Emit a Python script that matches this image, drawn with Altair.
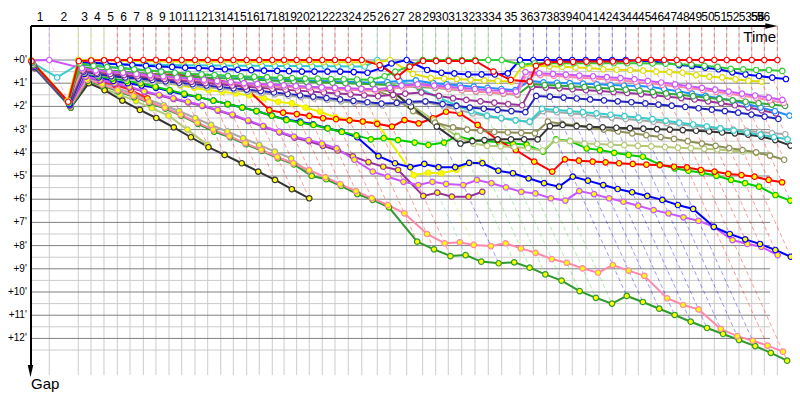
import altair as alt
import pandas as pd

# leader lap completion times (minutes), lap 0 = start
LAP_TIME = [0, 1.74, 4.50, 5.71, 6.95, 8.22, 9.43, 10.70, 11.90, 13.14, 14.35, 15.62, 16.83, 18.07,
            19.27, 20.54, 21.74, 22.98, 24.10, 25.30, 26.50, 27.74, 28.95, 30.22, 31.50, 32.98, 34.19,
            35.78, 37.30, 38.54, 39.74, 41.02, 42.29, 43.55, 44.83, 46.57, 47.84, 49.11, 50.31, 51.55,
            52.83, 54.10, 55.36, 56.64, 57.84, 59.05, 60.29, 61.50, 62.70, 63.88, 65.08, 66.26, 67.43,
            68.64, 69.84, 71.08]
LAP_LABELS = [str(i) for i in range(1, 57)]
LAST_LABEL_POS = [69.2, 69.75]   # labels 55 and 56 are squeezed against the arrow
GAP_TICKS = list(range(0, 13))
N = None

# gaps (minutes) per lap, lap 0..55
red_w = [0.05, 1.8, 0.05, 0.02, 0.01] + [0] * 20 + [0.22, 0.72, 0.29] + [0.04] * 5 + \
        [0.5, 0.86, 0.93, 0.25, 0.1, 0.08, 0.08, 0.07, 0.07, 0.06, 0.05] + [0] * 12
green_w = [0.1, 1.85, 0.15, 0.25, 0.3, 0.35, 0.4, 0.45, 0.5, 0.55, 0.6, 0.62, 0.65, 0.68, 0.7,
           0.72, 0.74, 0.76, 0.78, 0.8, 0.8, 0.82, 0.83, 0.84, 0.85, 0.7, 0.5, 0.27] + [0] * 7 + \
          [0.2] + [0.14] * 9 + [0.15, 0.16, 0.18, 0.2, 0.25, 0.3, 0.38, 0.4, 0.43, 0.43, 0.47]
blue_w = [0.1, 1.9, 0.1, 0.12, 0.15, 0.18, 0.22, 0.25, 0.28, 0.3, 0.33, 0.35, 0.37, 0.4, 0.42,
          0.44, 0.46, 0.47, 0.48, 0.5, 0.5, 0.5, 0.5, 0.52, 0.55, 0.35, 0.15, 0,
          0.43, 0.55, 0.58, 0.62, 0.62, 0.62, 0.58] + [0] * 9 + \
         [0.03, 0.07, 0.12, 0.22, 0.26, 0.33, 0.4, 0.53, 0.62, 0.69, 0.76, 0.82]
yellow_w = [0.0, 1.75, 0, 0, 0, 0.03, 0.04, 0.05, 0.05, 0.06, 0.06, 0.07, 0.07, 0.07, 0.07, 0.08,
            0.08, 0.08, 0.08, 0.08, 0.09, 0.09, 0.1, 0.1, 0.1, 0.1, 0, 0.6,
            0.78, 0.8, 0.82, 0.85, 0.88, 0.9, 0.93, 0.25, 0.25, 0.27, 0.29, 0.32,
            0.35, 0.4, 0.42, 0.43, 0.46, 0.5, 0.52, 0.55, 0.65, 0.72, 0.75, 0.83, 0.89, 0.93, N, N]
magenta_w = [0.02, 0.0, 0.35, 0.45, 0.5, 0.55, 0.6, 0.65, 0.7, 0.75, 0.8, 0.85, 0.9, 0.95, 1.0,
             1.03, 1.06, 1.09, 1.12, 1.15, 1.18, 1.2, 1.22, 1.24, 1.26,
             1.2, 1.1, 1.05, 1.1, 1.15, 1.2, 1.25, 1.3, 1.33, 1.36,
             0.52, 0.57, 0.6, 0.63, 0.67, 0.7, 0.74, 0.78, 0.83, 0.9,
             0.97, 1.05, 1.13, 1.2, 1.28, 1.36, 1.45, 1.53, 1.62, 1.72, N]
pink_w = [0.15, 1.8, 0.4, 0.45, 0.5, 0.56, 0.62, 0.68, 0.74, 0.8, 0.85, 0.9, 0.95, 1.0, 1.04,
          1.08, 1.12, 1.15, 1.18, 1.21, 1.24, 1.26, 1.28, 1.3, 1.32,
          1.25, 1.18, 1.12, 1.18, 1.24, 1.3, 1.35, 1.4, 1.44, 1.48,
          0.62, 0.65, 0.68, 0.72, 0.76, 0.8, 0.84, 0.88, 0.94, 1.0,
          1.07, 1.14, 1.21, 1.29, 1.37, 1.45, 1.54, 1.63, 1.74, 1.85, N]
green2_w = [0.2, 1.85, 0.3, 0.4, 0.45, 0.5, 0.55, 0.6, 0.65, 0.7, 0.72, 0.75, 0.78, 0.8, 0.82,
            0.85, 0.88, 0.9, 0.92, 0.94, 0.96, 0.98, 1.0, 1.02, 1.05,
            1.08, 1.12, 1.16, 1.2, 1.25, 1.3, 1.35, 1.4, 1.45, 1.5,
            1.05, 1.08, 1.1, 1.13, 1.16, 1.2, 1.24, 1.28, 1.32, 1.38,
            1.44, 1.5, 1.56, 1.62, 1.68, 1.74, 1.8, 1.86, 1.92, 1.98, N]
dodger_w = [0.1, 1.8, 0.2, 0.25, 0.3, 0.35, 0.4, 0.45, 0.5, 0.55, 0.6, 0.63, 0.66, 0.7, 0.73,
            0.76, 0.79, 0.82, 0.85, 0.88, 0.9, 0.92, 0.94, 0.96, 0.98,
            0.95, 0.9, 0.88, 1.0, 1.05, 1.1, 1.15, 1.2, 1.25, 1.3,
            0.9, 0.96, 0.98, 1.0, 1.02, 1.05, 1.08, 1.1, 1.12, 1.15,
            1.25, 1.35, 1.45, 1.55, 1.65, 1.75, 1.9, 2.05, 2.2, 2.4, N]
purple_w = [0.25, 1.9, 0.45, 0.55, 0.6, 0.65, 0.7, 0.76, 0.82, 0.88, 0.94, 1.0, 1.05, 1.1, 1.15,
            1.2, 1.24, 1.28, 1.32, 1.36, 1.4, 1.44, 1.48, 1.52, 1.56,
            1.5, 1.45, 1.4, 1.55, 1.65, 1.72, 1.78, 1.84, 1.9, 1.95,
            1.15, 1.19, 1.22, 1.26, 1.3, 1.34, 1.38, 1.42, 1.47, 1.52,
            1.58, 1.64, 1.7, 1.78, 1.86, 1.95, 2.05, 2.17, 2.3, N, N]
navy_w = [0.3, 1.95, 0.5, 0.6, 0.7, 0.75, 0.8, 0.86, 0.92, 0.98, 1.04, 1.1, 1.16, 1.22, 1.28,
          1.34, 1.4, 1.46, 1.52, 1.58, 1.64, 1.7, 1.76, 1.82, 1.88,
          1.85, 1.8, 1.78, 1.9, 1.98, 2.05, 2.1, 2.15, 2.2, 2.25,
          1.55, 1.58, 1.62, 1.66, 1.7, 1.74, 1.78, 1.82, 1.87, 1.92,
          1.97, 2.02, 2.08, 2.14, 2.2, 2.27, 2.35, 2.44, 2.54, N, N]
cyan_w = [0.1, 0.75, 0.15, 0.15, 0.17, 0.18, 0.19, 0.2, 0.21, 0.22, 0.23, 0.23, 0.24, 0.24, 0.25,
          0.25, 0.25, 0.26, 0.26, 0.26, 0.27, 0.27, 0.27, 0.28, 0.28,
          0, 0.9, 1.25, 1.65, 1.95, 2.2, 2.4, 2.5, 2.6, 2.66,
          2.1, 2.15, 2.2, 2.25, 2.3, 2.36, 2.42, 2.48, 2.55, 2.62,
          2.7, 2.78, 2.86, 2.95, 3.04, 3.13, 3.22, 3.32, 3.42, N, N]
gray_w = [0.3, 1.95, 0.55, 0.65, 0.72, 0.8, 0.87, 0.94, 1.0, 1.06, 1.12, 1.18, 1.24, 1.3, 1.36,
          1.42, 1.48, 1.54, 1.6, 1.66, 1.72, 1.78, 1.84, 1.9, 1.96,
          1.9, 1.85, 1.82, 2.0, 2.15, 2.3, 2.42, 2.52, 2.6, 2.68,
          2.2, 2.25, 2.3, 2.36, 2.42, 2.48, 2.54, 2.6, 2.66, 2.72,
          2.78, 2.84, 2.9, 2.95, 3.0, 3.05, 3.1, 3.15, 3.2, N, N]
black_w = [0.3, 1.95, 0.55, 0.62, 0.68, 0.72, 0.76, 0.8, 0.84, 0.88, 0.92, 0.96, 1.0, 1.03, 1.06,
           1.09, 1.12, 1.15, 1.17, 1.19, 1.21, 1.23, 1.25, 1.27, 1.29,
           1.3, 2.0, 2.87, 3.6, 3.5, 3.45, 3.42, 3.42, 3.42, 3.42,
           2.85, 2.8, 2.85, 2.88, 2.9, 2.92, 2.94, 2.96, 2.98, 3.0,
           3.02, 3.05, 3.08, 3.12, 3.16, 3.22, 3.3, 3.45, 3.69, N, N]
olive_w = [0.3, 1.95, 0.5, 0.6, 0.66, 0.7, 0.74, 0.78, 0.82, 0.86, 0.9, 0.93, 0.96, 0.99, 1.02,
           1.05, 1.08, 1.11, 1.14, 1.17, 1.2, 1.23, 1.26, 1.29, 1.32,
           1.6, 2.2, 2.7, 2.9, 3.0, 3.05, 3.1, 3.12, 3.14, 3.16,
           2.66, 2.75, 2.82, 2.9, 3.0, 3.08, 3.16, 3.24, 3.32, 3.4,
           3.5, 3.6, 3.7, 3.8, 3.88, 3.98, 4.12, 4.3, N, N, N]
lolive_w = [0.3, 1.95, 0.5, 0.58, 0.64, 0.68, 0.72, 0.76, 0.8, 0.84, 0.88, 0.92, 0.95, 0.98, 1.01,
            1.04, 1.07, 1.1, 1.13, 1.16, 1.19, 1.22, 1.24, 1.26, 1.28,
            1.35, 1.9, 2.6, 3.3, 3.6, 3.7, 3.72, 3.75, 3.8, 3.9,
            3.45, 3.5, 3.6, 3.62, 3.65, 3.67, 3.7, 3.72, 3.75, 3.78,
            3.8, 3.83, 3.86, 3.9, 3.95, 4.0, 4.1, N, N, N, N]
red_y = [0.2, 1.9, 0.35, 0.45, 0.5, 0.55, 0.58, 0.6, 0.62, 0.64, 0.66, 0.75, 0.85, 1.0, 1.22,
         2.16, 2.27, 2.33, 2.41, 2.51, 2.55, 2.6, 2.65, 2.75, 2.87, 2.59, 2.73, 2.51, 2.23, 2.3,
         2.8, 3.45, 3.88, 4.38, 4.81, 4.28, 4.34, 4.38, 4.41, 4.45, 4.48, 4.51, 4.53, 4.6, 4.63,
         4.74, 4.81, 4.91, 4.96, 5.03, 5.17, 5.27, N, N, N, N]
green_y = [0.25, 1.95, 0.55, 0.7, 0.8, 0.9, 1.0, 1.15, 1.3, 1.45, 1.6, 1.75, 1.9, 2.05, 2.2, 2.4,
           2.59, 2.7, 2.8, 2.95, 3.1, 3.25, 3.42, 3.37, 3.45, 3.56, 3.66, 3.56, 3.28, 3.45, 3.49,
           3.55, 3.6, 3.65, 3.95, 3.42, 3.49, 3.81, 3.88, 4.0, 4.09, 4.17, 4.5, 4.67, 4.77, 4.86,
           4.99, 5.17, 5.31, 5.46, 5.82, 6.06, N, N, N, N]
blue_y = [0.25, 1.95, 0.6, 0.75, 0.9, 1.0, 1.1, 1.2, 1.35, 1.5, 1.6, 1.75, 1.9, 2.05, 2.2, 2.4,
          2.56, 2.66, 2.77, 2.94, 3.09, 3.33, 4.14, 4.45, 4.62, 4.48, 4.62, 4.62, 4.43, 4.45, 4.77,
          4.88, 5.1, 5.31, 5.46, 5.03, 5.2, 5.39, 5.56, 5.7, 5.86, 6.03, 6.25, 6.42, 7.19, 7.5,
          7.73, 7.93, 8.19, 8.48, N, N, N, N, N, N]
magenta_y = [0.3, 1.95, 0.7, 0.85, 1.0, 1.15, 1.35, 1.5, 1.65, 1.8, 1.95, 2.15, 2.35, 2.6, 2.84,
             3.09, 3.3, 3.45, 3.6, 3.81, 4.3, 4.81, 5.03, 5.25, 5.39, 5.25, 5.34, 5.39, 5.17, 5.31,
             5.49, 5.68, 5.75, 5.96, 6.06, 5.65, 5.78, 5.96, 6.11, 6.28, 6.47, 6.61, 6.78, 6.93,
             7.19, 7.76, 7.93, 8.05, 8.41, N, N, N, N, N, N, N]
pink_y = [0.28, 2.0, 0.85, 1.05, 1.3, 1.55, 1.8, 2.05, 2.35, 2.7, 3.0, 3.28, 3.58, 3.87, 4.18,
          4.45, 4.75, 5.05, 5.35, 5.65, 5.95, 6.25, 6.61, 7.5, 7.9, 7.86, 7.97, 8.02, 7.9, 8.12,
          8.31, 8.58, 8.74, 8.98, 9.17, 8.84, 9.08, 9.3, 10.27, 10.56, 10.75, 11.59, 11.9, 12.1,
          12.31, 12.57] + [N] * 10
dkgreen_y = [0.3, 2.05, 0.9, 1.1, 1.35, 1.6, 1.85, 2.1, 2.4, 2.75, 3.09, 3.33, 3.63, 3.92, 4.24,
             4.5, 5.0, 5.14, 5.43, 5.78, 6.03, 6.35, 7.83, 8.16, 8.45, 8.41, 8.69, 8.76, 8.72, 8.95,
             9.24, 9.51, 9.96, 10.25, 10.5, 10.17, 10.43, 10.72, 10.99, 11.28, 11.55, 11.81, 12.07,
             12.33, 12.62, 12.96] + [N] * 10
purple_y = [0.3, 1.95, 0.72, 0.88, 1.03, 1.18, 1.38, 1.53, 1.68, 1.83, 1.98, 2.18, 2.38, 2.63,
            2.87, 3.12, 3.35, 3.5, 3.7, 3.9, 4.15, 4.4, 4.6, 4.74, 5.86, 5.72, 5.89, 5.89,
            5.68] + [N] * 27
yellow_y = [0.15, 1.85, 0.4, 0.5, 0.6, 0.7, 0.8, 0.9, 1.0, 1.1, 1.2, 1.3, 1.37, 1.44, 1.52, 1.65,
            1.8, 1.87, 2.05, 2.23, 2.47, 2.59, 2.66, 2.7, 4.96, 4.86, 4.88, 4.74, 4.45,
            4.41] + [N] * 26
gray_y = [0.3, 2.0, 0.75, 0.95, 1.2, 1.45, 1.7, 1.95, 2.2, 2.5, 2.8, 3.08, 3.37, 3.66, 3.95, 4.24,
          4.96] + [N] * 39
black_y = [0.35, 2.05, 1.0, 1.3, 1.75, 2.15, 2.5, 2.9, 3.33, 3.76, 4.09, 4.45, 4.81, 5.17, 5.57,
           5.96] + [N] * 40
lolive_y = [0.3, 2.0, 0.95, 1.25, 1.5, 1.77, 2.08, 2.4, 3.0, 3.66] + [N] * 46
red2_y = [0.25, 1.95, 0.5, 0.93, 1.08, 1.29, 1.65] + [N] * 49

WHITE, YEL = "#ffffff", "#ffff00"
DRIVERS = [
    ("lolive_y", "#b5c977", YEL, lolive_y), ("black_y", "#333333", YEL, black_y),
    ("gray_y", "#a8a8a8", YEL, gray_y), ("red2_y", "#ff2020", YEL, red2_y),
    ("dkgreen_y", "#2e9a2e", YEL, dkgreen_y), ("pink_y", "#ff88aa", YEL, pink_y),
    ("purple_y", "#993399", YEL, purple_y), ("magenta_y", "#cc55ff", YEL, magenta_y),
    ("yellow_y", "#eeee00", YEL, yellow_y), ("blue_y", "#0000ff", YEL, blue_y),
    ("green_y", "#00cc00", YEL, green_y), ("red_y", "#ff0000", YEL, red_y),
    ("lolive_w", "#b5c977", WHITE, lolive_w), ("olive_w", "#8e8e55", WHITE, olive_w),
    ("black_w", "#333333", WHITE, black_w), ("gray_w", "#a8a8a8", WHITE, gray_w),
    ("cyan_w", "#33cccc", WHITE, cyan_w), ("navy_w", "#2222bb", WHITE, navy_w),
    ("purple_w", "#993399", WHITE, purple_w), ("dodger_w", "#1e90ff", WHITE, dodger_w),
    ("green2_w", "#33aa33", WHITE, green2_w), ("pink_w", "#ff88aa", WHITE, pink_w),
    ("magenta_w", "#cc55ff", WHITE, magenta_w), ("yellow_w", "#dddd00", WHITE, yellow_w),
    ("blue_w", "#0000ff", WHITE, blue_w), ("green_w", "#33cc33", WHITE, green_w),
    ("red_w", "#ff0000", WHITE, red_w),
]

# ---- geometry of the plot (minutes) ----
PLOT_W, PLOT_H = 761, 366
X_MAX = PLOT_W / 10.5
Y_MIN, Y_MAX = -1.4655, 14.31
GRID_X_END = 70.38
GRID_Y_END = 13.58

rows = []
for k, (name, color, fill, gaps) in enumerate(DRIVERS):
    for lap, g in enumerate(gaps):
        if g is None:
            continue
        rows.append(dict(driver=f"{k:02d}_{name}", lap=lap, gap=g, t=LAP_TIME[lap] + g,
                         color=color, fill=fill))
df = pd.DataFrame(rows)

# lap iso-lines (dashed), coloured by the leader of that lap
dash_rows = []
for lap in range(1, len(LAP_TIME)):
    sub = df[df.lap == lap]
    gmax = sub.gap.max()
    leader = sub.sort_values("gap", kind="stable").iloc[0]
    T = LAP_TIME[lap]
    for seq, (tt, gg) in enumerate([(T, Y_MIN), (T, 0.0), (T + gmax, gmax)]):
        dash_rows.append(dict(lap=lap, seq=seq, t=tt, gap=gg, color=leader.color))
dash_df = pd.DataFrame(dash_rows)

xs = alt.Scale(domain=[0, X_MAX], zero=False, nice=False)
ys = alt.Scale(domain=[Y_MIN, Y_MAX], reverse=True, zero=False, nice=False)
X = lambda f: alt.X(f, type="quantitative", scale=xs, axis=None)
Y = lambda f: alt.Y(f, type="quantitative", scale=ys, axis=None)

vgrid = pd.DataFrame({"t": LAP_TIME[1:], "y1": Y_MIN, "y2": GRID_Y_END})
hgrid_dark = pd.DataFrame({"g": GAP_TICKS, "x1": 0.0, "x2": GRID_X_END})
hgrid_light = pd.DataFrame({"g": [v + 0.5 for v in GAP_TICKS], "x1": 0.0, "x2": GRID_X_END})

layers = []
layers.append(alt.Chart(vgrid).mark_rule(color="#cccccc", strokeWidth=1).encode(
    x=X("t"), y=Y("y1"), y2="y2"))
layers.append(alt.Chart(hgrid_light).mark_rule(color="#cccccc", strokeWidth=1).encode(
    y=Y("g"), x=X("x1"), x2="x2"))
layers.append(alt.Chart(hgrid_dark).mark_rule(color="#808080", strokeWidth=1).encode(
    y=Y("g"), x=X("x1"), x2="x2"))
layers.append(alt.Chart(dash_df).mark_line(strokeWidth=1, strokeDash=[4, 3], opacity=0.4,
                                           clip=True).encode(
    x=X("t"), y=Y("gap"), color=alt.Color("color:N", scale=None), detail="lap:N",
    order="seq:Q"))
layers.append(alt.Chart(df).mark_line(strokeWidth=2).encode(
    x=X("t"), y=Y("gap"), color=alt.Color("color:N", scale=None), detail="driver:N",
    order="lap:Q"))
layers.append(alt.Chart(df).mark_point(shape="circle", filled=True, size=30, strokeWidth=1.2,
                                       opacity=1).encode(
    x=X("t"), y=Y("gap"), fill=alt.Fill("fill:N", scale=None),
    stroke=alt.Stroke("color:N", scale=None)))

# axes
axis_df = pd.DataFrame({"x1": [0.0], "x2": [GRID_X_END], "y1": [Y_MIN], "y2": [13.28]})
layers.append(alt.Chart(axis_df).mark_rule(color="black", strokeWidth=2).encode(
    x=X("x1"), x2="x2", y=Y("y1")))
layers.append(alt.Chart(axis_df).mark_rule(color="black", strokeWidth=2).encode(
    x=X("x1"), y=Y("y1"), y2="y2"))
arrows = pd.DataFrame({"t": [70.52, -0.05], "g": [Y_MIN, 13.41],
                       "shape": ["M-1,-0.45L-1,0.45L1,0Z", "M-0.45,-1L0.45,-1L0,1Z"]})
layers.append(alt.Chart(arrows).mark_point(filled=True, color="black", size=150, opacity=1).encode(
    x=X("t"), y=Y("g"), shape=alt.Shape("shape:N", scale=None)))

# tick labels
lab_x = [(LAP_TIME[i - 1] + LAP_TIME[i]) / 2 for i in range(1, len(LAP_TIME) - 1)]
lab_x += LAST_LABEL_POS
lap_lab = pd.DataFrame({"t": lab_x[:len(LAP_LABELS)], "g": -1.85, "txt": LAP_LABELS})
layers.append(alt.Chart(lap_lab).mark_text(font="Liberation Sans", fontSize=12, color="black",
                                           baseline="middle", align="center").encode(
    x=X("t"), y=Y("g"), text="txt:N"))
gap_lab = pd.DataFrame({"g": GAP_TICKS, "t": -0.40, "txt": [f"+{v}'" for v in GAP_TICKS]})
layers.append(alt.Chart(gap_lab).mark_text(font="Liberation Sans", fontSize=10, color="black",
                                           baseline="middle", align="right").encode(
    x=X("t"), y=Y("g"), text="txt:N"))
titles = pd.DataFrame({"t": [69.4, 1.35], "g": [-1.0, 13.97], "txt": ["Time", "Gap"]})
layers.append(alt.Chart(titles).mark_text(font="Liberation Sans", fontSize=15, color="black",
                                          baseline="middle", align="center").encode(
    x=X("t"), y=Y("g"), text="txt:N"))

chart = alt.layer(*layers).properties(
    width=PLOT_W, height=PLOT_H,
    padding={"left": 23, "top": 18, "right": 0, "bottom": 0},
    autosize=alt.AutoSizeParams(type="none"),
).configure_view(strokeWidth=0)

chart.save("out.html", embed_options={"renderer": "svg", "actions": False})
